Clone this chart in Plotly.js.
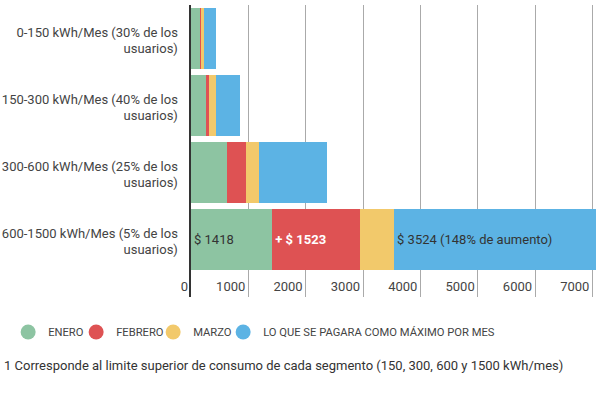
<!DOCTYPE html>
<html>
<head>
<meta charset="utf-8">
<script src="https://cdn.plot.ly/plotly-3.0.1.min.js"></script>
<style>html,body{margin:0;padding:0;background:#fff;}#chart{width:608px;height:396px;}</style>
</head>
<body>
<div id="chart"></div>
<script>
const categories = [
  '0-150 kWh/Mes (30% de los<br>usuarios)',
  '150-300 kWh/Mes (40% de los<br>usuarios)',
  '300-600 kWh/Mes (25% de los<br>usuarios)',
  '600-1500 kWh/Mes (5% de los<br>usuarios)'
];
const enero = [162, 256, 622, 1418];
const febrero = [14, 58, 337, 1523];
const marzo = [52, 122, 227, 600];
const maximo = [209, 419, 1181, 3524];
const textEnero = ['', '', '', '$ 1418'];
const textFebrero = ['', '', '', '+ $ 1523'];
const textMaximo = ['', '', '', '$ 3524 (148% de aumento)'];
const seriesNames = ['ENERO', 'FEBRERO', 'MARZO', 'LO QUE SE PAGARA COMO MÁXIMO POR MES'];
const colors = ['#8dc4a2', '#de5253', '#f2c96b', '#5cb3e4'];
const xTicks = [0, 1000, 2000, 3000, 4000, 5000, 6000, 7000];
const footnote = '1 Corresponde al limite superior de consumo de cada segmento (150, 300, 600 y 1500 kWh/mes)';

const seriesValues = [enero, febrero, marzo, maximo];
const seriesText = [textEnero, textFebrero, null, textMaximo];
const textColors = ['#333', '#ffffff', '#333', '#333'];
const textWeights = ['normal', 'bold', 'normal', 'normal'];
const legendWidths = [23, 32, 25, 240];

const traces = [];
seriesValues.forEach((vals, i) => {
  const t = {
    type: 'bar', orientation: 'h', x: vals, y: categories,
    name: seriesNames[i], marker: {color: colors[i], line: {width: 0}},
    showlegend: false, hoverinfo: 'skip',
    textposition: 'inside', insidetextanchor: 'start', textangle: 0,
    constraintext: 'none', cliponaxis: false,
    textfont: {family: 'Roboto', size: 13, color: textColors[i], weight: textWeights[i]}
  };
  if (seriesText[i]) t.text = seriesText[i]; else t.textposition = 'none';
  traces.push(t);
});
seriesNames.forEach((n, i) => {
  traces.push({type: 'scatter', mode: 'markers', x: [null], y: [null], name: n,
    legendwidth: legendWidths[i],
    marker: {color: colors[i], size: 15, symbol: 'circle'}, showlegend: true, hoverinfo: 'skip'});
});

const layout = {
  width: 608, height: 396,
  margin: {l: 191, r: 7, t: 5, b: 99, autoexpand: false},
  paper_bgcolor: '#fff', plot_bgcolor: '#fff',
  font: {family: 'Roboto', size: 13, color: '#444'},
  barmode: 'stack', bargap: 0.1,
  showlegend: true,
  legend: {orientation: 'h', traceorder: 'normal', xref: 'paper', x: -0.446, xanchor: 'left',
    yref: 'paper', y: -0.12, yanchor: 'middle', itemwidth: 30,
    font: {family: 'Roboto', size: 11.2, color: '#444'}},
  xaxis: {range: [0, 7150], tickvals: xTicks, showgrid: true, gridcolor: '#aaaaaa', gridwidth: 1,
    zeroline: false, ticks: '',
    ticklabelposition: 'outside left', ticklabelstandoff: -20, ticklabelshift: -3,
    tickfont: {family: 'Roboto', size: 13, color: '#444'}, fixedrange: true},
  yaxis: {type: 'category', autorange: false, range: [3.858, -0.5], showgrid: false, zeroline: false,
    showline: true, linecolor: '#333', linewidth: 2.5, ticks: '', ticklabelstandoff: 8, ticklabelshift: -2,
    tickfont: {family: 'Roboto', size: 13, color: '#444'}, fixedrange: true},
  annotations: [{xref: 'paper', yref: 'paper', x: -0.461, y: -0.233, xanchor: 'left', yanchor: 'middle',
    text: footnote, showarrow: false, font: {family: 'Roboto', size: 13, color: '#333'}}]
};
Plotly.newPlot('chart', traces, layout, {displayModeBar: false, staticPlot: true});
</script>
</body>
</html>
